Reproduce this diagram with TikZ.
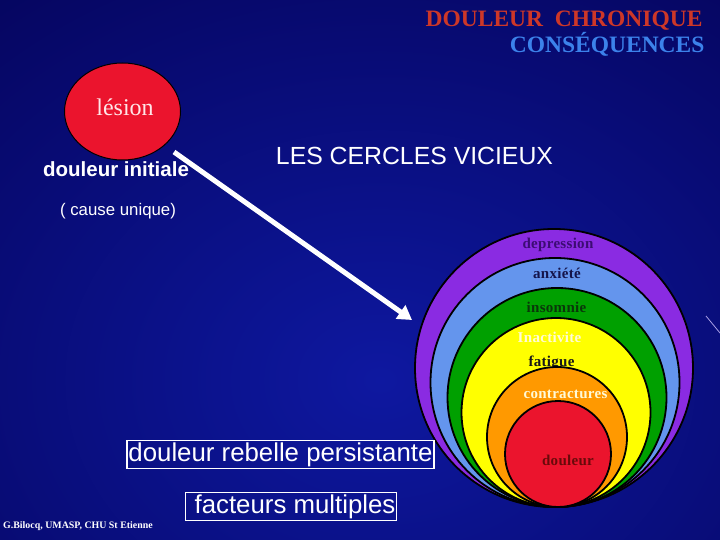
\documentclass[tikz,border=0pt]{standalone}
\usepackage{fontspec}
\setmainfont{Liberation Serif}
\newfontfamily\arial{Liberation Sans}
\newfontfamily\ringfont[LetterSpace=2]{Liberation Serif}
\usetikzlibrary{shapes.geometric,arrows.meta}
\definecolor{bgdark}{RGB}{5,5,95}
\definecolor{bgmid}{RGB}{14,24,160}
\definecolor{titlered}{RGB}{205,55,40}
\definecolor{titleblue}{RGB}{60,130,235}
\definecolor{lesred}{RGB}{235,20,45}
\definecolor{lespink}{RGB}{255,230,232}
\definecolor{cpurple}{RGB}{138,43,226}
\definecolor{cblue}{RGB}{100,149,237}
\definecolor{cgreen}{RGB}{0,160,0}
\definecolor{cyellow}{RGB}{255,255,0}
\definecolor{corange}{RGB}{255,153,0}
\definecolor{cred}{RGB}{235,20,45}
\definecolor{tpurple}{RGB}{60,12,115}
\definecolor{tnavy}{RGB}{20,20,75}
\definecolor{tgreen}{RGB}{10,55,10}
\definecolor{tlight}{RGB}{255,250,215}
\definecolor{tdark}{RGB}{25,25,25}
\definecolor{tred}{RGB}{105,10,10}
\definecolor{raycol}{RGB}{170,160,230}
\tikzset{
  ring/.style={circle, draw=black, line width=1.8pt, inner sep=0pt},
  ringlabel/.style={anchor=base, font=\ringfont\bfseries\fontsize{15}{17}\selectfont},
  titletext/.style={anchor=base east, font=\bfseries\fontsize{23.5}{26}\selectfont},
  boxtext/.style={draw=white, line width=1.2pt, inner xsep=1.5pt, inner ysep=2pt, text=white, font=\arial\fontsize{25.8}{28}\selectfont},
}
\begin{document}
\begin{tikzpicture}[x=1pt,y=-1pt]
\useasboundingbox (0,0) rectangle (720,540);
\begin{scope}
  \clip (0,0) rectangle (720,540);
  \fill[bgdark] (0,0) rectangle (720,540);
  \shade[inner color=bgmid, outer color=bgdark] (-250,-120) rectangle (1010,880);
  \draw[raycol, line width=0.8pt] (706,316) -- (720,333);
\end{scope}

% titles
\node[titletext, text=titlered] (title1) at (706,26.5) {DOULEUR\ \ CHRONIQUE};
\node[titletext, text=titleblue] (title2) at (708,53) {CONSÉQUENCES};

% lesion
\node[ellipse, draw=black, line width=1pt, fill=lesred, minimum width=116pt, minimum height=97pt, inner sep=0pt] (lesion) at (122.5,111.5) {};
\node[anchor=base, text=lespink, font=\fontsize{24}{28}\selectfont] (lesiontext) at (125,116) {lésion};
\node[anchor=base, text=white, font=\arial\bfseries\fontsize{20.5}{24}\selectfont] (initiale) at (116,177) {douleur initiale};
\node[anchor=base, text=white, font=\arial\fontsize{16.8}{20}\selectfont] (cause) at (118,215) {( cause unique)};
\node[anchor=base, text=white, font=\arial\fontsize{24.8}{28}\selectfont] (cercles) at (414.5,165) {LES CERCLES VICIEUX};

% arrow
\coordinate (arrowstart) at (174,152);
\coordinate (arrowtip) at (412,320);
\draw[white, line width=5pt, -{Triangle[length=14pt,width=16pt]}] (arrowstart) -- (arrowtip);

% concentric circles
\node[ring, fill=cpurple, minimum size=278pt] (rpurple) at (554,368) {};
\node[ring, fill=cblue, minimum size=249pt] (rblue) at (555,382.5) {};
\node[ring, fill=cgreen, minimum size=219pt] (rgreen) at (557,397.5) {};
\node[ring, fill=cyellow, minimum size=189pt] (ryellow) at (556,412.5) {};
\node[ringlabel, text=tpurple] (ldep) at (558,248) {depression};
\node[ringlabel, text=tnavy] (lanx) at (557,278) {anxiété};
\node[ringlabel, text=tgreen] (lins) at (556.5,312.5) {insomnie};
\node[ringlabel, text=tlight] (lina) at (549.5,342.5) {Inactivite};
\node[ringlabel, text=tdark] (lfat) at (551.5,366) {fatigue};
\node[ring, fill=corange, minimum size=140pt] (rorange) at (557,437) {};
\node[ring, fill=cred, minimum size=106pt] (rred) at (558,454) {};
\node[ringlabel, text=tlight] (lcon) at (565.5,398) {contractures};
\node[ringlabel, text=tred] (ldou) at (568,465) {douleur};

% boxes
\node[boxtext] (rebelle) at (280.5,454.5) {douleur rebelle persistante};
\node[boxtext] (facteurs) at (291,506.5) {\hspace{8pt}facteurs multiples};

% credit
\node[anchor=base west, text=white, inner sep=0pt, font=\bfseries\fontsize{9.9}{11}\selectfont] (credit) at (3,528) {G.Bilocq, UMASP, CHU St Etienne};
\end{tikzpicture}
\end{document}
